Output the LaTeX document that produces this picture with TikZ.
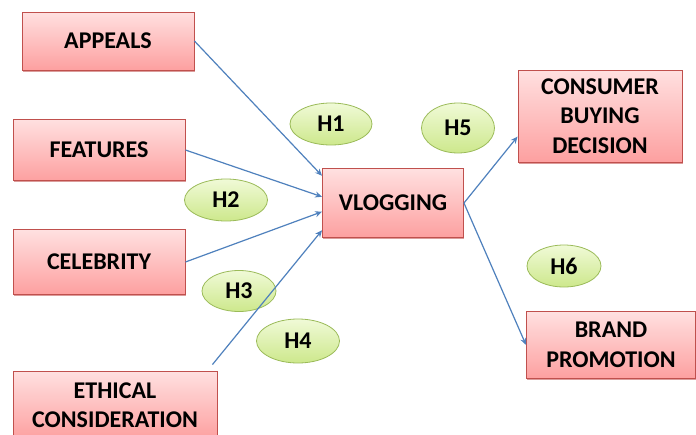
\documentclass[tikz,border=0pt]{standalone}
\usepackage{fontspec}
\setmainfont{Carlito}
\usetikzlibrary{arrows.meta,positioning,calc,shadows,shapes.geometric}
\definecolor{boxline}{RGB}{192,80,77}
\definecolor{boxtop}{RGB}{255,224,224}
\definecolor{boxbot}{RGB}{253,160,160}
\definecolor{hypline}{RGB}{155,187,89}
\definecolor{hyptop}{RGB}{240,250,215}
\definecolor{hypbot}{RGB}{205,232,140}
\definecolor{linkblue}{RGB}{79,129,189}
\tikzset{
  varbox/.style={rectangle, draw=boxline, line width=0.9pt, top color=boxtop, bottom color=boxbot,
                 align=center, font=\fontsize{24}{29.5}\selectfont\bfseries, inner sep=0pt,
                 drop shadow={shadow xshift=0.6pt, shadow yshift=-1.8pt, fill=boxline!70, opacity=0.8}},
  hyp/.style={ellipse, draw=hypline, line width=0.8pt, top color=hyptop, bottom color=hypbot,
              font=\fontsize{24}{28}\selectfont\bfseries, inner sep=0pt},
  link/.style={-{Stealth[length=7pt,width=6pt]}, line width=1.2pt, draw=linkblue},
}
\begin{document}
\begin{tikzpicture}[x=1pt, y=-1pt]
\clip (0,0) rectangle (696,434);
\fill[white] (0,0) rectangle (696,434);
% predictors
\node[varbox, minimum width=172pt, minimum height=58pt] (appeals) at (108,41) {APPEALS};
\node[varbox, minimum width=172pt, minimum height=61pt] (features) at (99,150) {FEATURES};
\node[varbox, minimum width=172pt, minimum height=65pt] (celebrity) at (99,262) {CELEBRITY};
\node[varbox, minimum width=204pt, minimum height=68pt] (ethical) at (115,405) {ETHICAL\\CONSIDERATION};
% mediator and outcomes
\node[varbox, minimum width=141pt, minimum height=69pt] (vlog) at (393,203) {VLOGGING};
\node[varbox, minimum width=164pt, minimum height=92pt] (consumer) at (600,116) {CONSUMER\\BUYING\\DECISION};
\node[varbox, minimum width=169pt, minimum height=67pt] (brand) at (611,345) {BRAND\\PROMOTION};
% hypotheses
\node[hyp, minimum width=82pt, minimum height=42pt] (h1) at (331,124) {H1};
\node[hyp, minimum width=83pt, minimum height=42pt] (h2) at (226,200) {H2};
\node[hyp, minimum width=74pt, minimum height=41pt] (h3) at (239,291) {H3};
\node[hyp, minimum width=83pt, minimum height=44pt] (h4) at (298,341) {H4};
\node[hyp, minimum width=73pt, minimum height=50pt] (h5) at (458,128) {H5};
\node[hyp, minimum width=74pt, minimum height=42pt] (h6) at (564,266) {H6};
% paths
\draw[link] (appeals.east) -- (vlog.159);
\draw[link] (features.east) -- (vlog.175);
\draw[link] (celebrity.east) -- (vlog.187);
\draw[link] ([xshift=-5pt,yshift=6pt]ethical.north east) -- (vlog.201);
\draw[link] (vlog.east) -- (consumer.194);
\draw[link] (vlog.east) -- (brand.west);
\end{tikzpicture}
\end{document}
